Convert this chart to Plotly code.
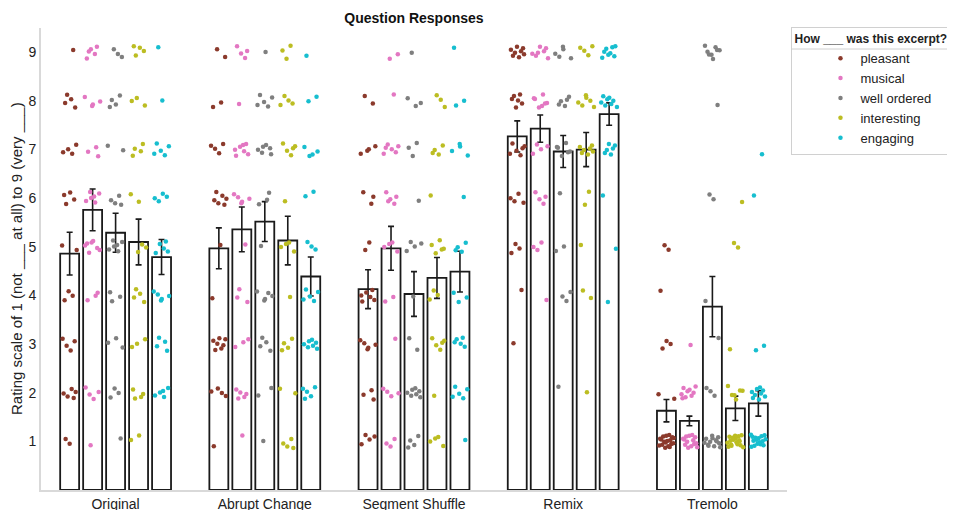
import plotly.graph_objects as go

categories = ["Original", "Abrupt Change", "Segment Shuffle", "Remix", "Tremolo"]
series_names = ["pleasant", "musical", "well ordered", "interesting", "engaging"]
series_colors = ["#8b3a2c", "#e377c2", "#7f7f7f", "#bcbd22", "#17becf"]
levels = [1, 2, 3, 4, 5, 6, 7, 8, 9]

# bar means (per category)
pleasant_mean = [4.86, 4.97, 4.13, 7.27, 1.63]
musical_mean = [5.76, 5.36, 4.97, 7.43, 1.42]
well_ordered_mean = [5.29, 5.52, 4.03, 6.96, 3.77]
interesting_mean = [5.10, 5.13, 4.36, 7.00, 1.68]
engaging_mean = [4.79, 4.39, 4.49, 7.73, 1.78]

# standard errors
pleasant_sem = [0.44, 0.42, 0.40, 0.32, 0.23]
musical_sem = [0.43, 0.46, 0.45, 0.28, 0.10]
well_ordered_sem = [0.40, 0.41, 0.46, 0.33, 0.62]
interesting_sem = [0.47, 0.50, 0.42, 0.35, 0.25]
engaging_sem = [0.36, 0.40, 0.42, 0.23, 0.26]

# number of responses at each rating level 1..9, per category
pleasant_counts = [
    [2, 5, 4, 3, 2, 4, 4, 4, 1],
    [1, 4, 7, 1, 1, 6, 4, 2, 2],
    [4, 3, 5, 6, 2, 3, 4, 2, 0],
    [0, 0, 1, 1, 3, 4, 6, 6, 8],
    [18, 2, 3, 1, 2, 0, 0, 0, 0],
]
musical_counts = [
    [1, 4, 0, 3, 7, 6, 3, 4, 5],
    [1, 5, 3, 3, 1, 5, 7, 1, 4],
    [3, 4, 1, 2, 4, 5, 6, 1, 2],
    [0, 0, 0, 1, 3, 4, 4, 7, 7],
    [14, 9, 1, 0, 0, 0, 0, 0, 0],
]
well_ordered_counts = [
    [1, 3, 3, 3, 6, 4, 2, 4, 3],
    [1, 2, 4, 5, 1, 3, 6, 5, 1],
    [4, 7, 2, 1, 4, 1, 3, 3, 1],
    [0, 1, 0, 3, 2, 1, 6, 5, 5],
    [13, 3, 1, 1, 0, 2, 0, 1, 8],
]
interesting_counts = [
    [2, 4, 3, 4, 3, 2, 4, 3, 4],
    [4, 2, 4, 1, 4, 1, 5, 4, 3],
    [4, 1, 5, 3, 5, 1, 4, 3, 0],
    [0, 1, 0, 2, 1, 2, 7, 6, 4],
    [18, 6, 1, 0, 2, 1, 0, 0, 0],
]
engaging_counts = [
    [0, 5, 4, 5, 5, 4, 5, 1, 1],
    [0, 5, 7, 5, 3, 2, 4, 2, 1],
    [1, 5, 5, 3, 4, 1, 4, 2, 1],
    [0, 0, 0, 1, 1, 1, 6, 8, 8],
    [16, 9, 2, 0, 0, 1, 1, 0, 0],
]

means = [pleasant_mean, musical_mean, well_ordered_mean, interesting_mean, engaging_mean]
sems = [pleasant_sem, musical_sem, well_ordered_sem, interesting_sem, engaging_sem]
counts = [pleasant_counts, musical_counts, well_ordered_counts, interesting_counts, engaging_counts]

BAR_PITCH = 0.154
BAR_WIDTH = 0.127
FONT = "Liberation Sans, Arial, Helvetica, sans-serif"


def vdc(n, base):
    v, denom = 0.0, 1.0
    while n:
        n, r = divmod(n, base)
        denom *= base
        v += r / denom
    return v


fig = go.Figure()

# bars
for j, name in enumerate(series_names):
    xs = [i + (j - 2) * BAR_PITCH for i in range(len(categories))]
    fig.add_trace(go.Bar(
        x=xs, y=means[j], width=BAR_WIDTH,
        marker=dict(color="rgba(255,255,255,0)", line=dict(color="#1a1a1a", width=1.8)),
        error_y=dict(type="data", array=sems[j], color="#1a1a1a", thickness=1.6, width=3),
        showlegend=False, hoverinfo="skip",
    ))

# jittered response points
for j, name in enumerate(series_names):
    px, py = [], []
    for i in range(len(categories)):
        cx = i + (j - 2) * BAR_PITCH
        k = 1 + 11 * i + 5 * j
        for lev, c in zip(levels, counts[j][i]):
            for _ in range(c):
                px.append(cx + (vdc(k, 2) - 0.5) * 0.85 * BAR_WIDTH)
                py.append(lev + (vdc(k, 3) - 0.5) * 0.28)
                k += 1
    fig.add_trace(go.Scatter(
        x=px, y=py, mode="markers", name=name,
        marker=dict(color=series_colors[j], size=4.5),
    ))

# the page adds an 8px body margin, so the figure is laid out 8px up/left
ML, MT, PW, PH = 33, 20, 746, 462
W, H = 955, 510

fig.update_layout(
    width=W, height=H,
    margin=dict(l=ML, r=W - ML - PW, t=MT, b=H - MT - PH, autoexpand=False),
    plot_bgcolor="white", paper_bgcolor="white",
    font=dict(family=FONT, size=13, color="#222"),
    barmode="overlay",
    title=dict(text="<b>Question Responses</b>", x=0.5, xref="paper", y=1 - 10 / H,
               yref="container", yanchor="middle", font=dict(size=14, color="#111")),
    legend=dict(
        x=1.006, xanchor="left", y=1.003, yanchor="top",
        bordercolor="#d0d0d0", borderwidth=1, bgcolor="rgba(255,255,255,0)",
        title=dict(text="<b>How ___ was this excerpt?</b>", font=dict(size=12)),
        font=dict(size=13, color="#222"),
        itemsizing="trace", indentation=28,
    ),
    xaxis=dict(
        range=[-0.5, 4.5], tickvals=list(range(len(categories))), ticktext=categories,
        showline=True, linecolor="#d9d9d9", linewidth=2, showgrid=False, zeroline=False,
        ticks="", tickfont=dict(size=14), automargin=False, ticklabelstandoff=0,
    ),
    yaxis=dict(
        range=[0, 9.5], tickvals=levels,
        showline=True, linecolor="#d9d9d9", linewidth=2, showgrid=False, zeroline=False,
        ticks="", tickfont=dict(size=14), automargin=False, ticklabelstandoff=0,
    ),
    annotations=[dict(
        text="Rating scale of 1 (not ___ at all) to 9 (very ___)",
        textangle=-90, x=0, xref="paper", xshift=-25, xanchor="center",
        y=0.5, yref="paper", yanchor="middle", showarrow=False,
        font=dict(size=15, color="#222"),
    )],
    shapes=[dict(
        type="line", xref="paper", yref="paper", x0=1.006, x1=1.3,
        y0=1 - 21 / PH, y1=1 - 21 / PH, line=dict(color="#d0d0d0", width=1),
    )],
)

fig.write_html("out.html")
